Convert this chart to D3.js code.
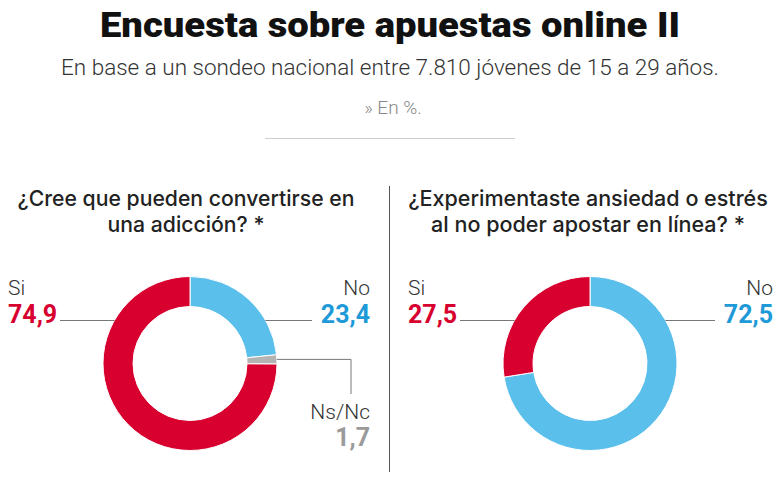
<!DOCTYPE html>
<html><head><meta charset="utf-8">
<script src="https://cdn.jsdelivr.net/npm/d3@7"></script>
<style>body{margin:0;background:#fff}svg{display:block}</style>
</head><body>
<script>
const title = "Encuesta sobre apuestas online II";
const subtitle = "En base a un sondeo nacional entre 7.810 jóvenes de 15 a 29 años.";
const unitNote = "» En %.";
const q1Title = ["¿Cree que pueden convertirse en", "una adicción? *"];
const q1Labels = ["No", "Ns/Nc", "Si"];
const q1Values = [23.4, 1.7, 74.9];
const q2Title = ["¿Experimentaste ansiedad o estrés", "al no poder apostar en línea? *"];
const q2Labels = ["No", "Si"];
const q2Values = [72.5, 27.5];

const W = 780, H = 480;
const sliceColor = {"Si": "#d7002f", "No": "#5bbfeb", "Ns/Nc": "#b3b3b3"};
const numColor = {"Si": "#d7002f", "No": "#1f9ad8", "Ns/Nc": "#9a9a9a"};
const svg = d3.select("body").append("svg").attr("width", W).attr("height", H);
const sans = "Roboto, 'Noto Sans', sans-serif";
const qfont = "Inter, 'Noto Sans', sans-serif";

svg.append("text").attr("x", W/2).attr("y", 37).attr("text-anchor", "middle")
  .attr("font-family", sans).attr("font-weight", 900).attr("font-size", 35)
  .attr("fill", "#111").attr("textLength", 580).attr("lengthAdjust", "spacingAndGlyphs").text(title);
svg.append("text").attr("x", W/2).attr("y", 75).attr("text-anchor", "middle")
  .attr("font-family", sans).attr("font-weight", 300).attr("font-size", 22)
  .attr("fill", "#333").attr("textLength", 658).attr("lengthAdjust", "spacingAndGlyphs").text(subtitle);
svg.append("text").attr("x", W/2 + 3).attr("y", 114).attr("text-anchor", "middle")
  .attr("font-family", sans).attr("font-weight", 300).attr("font-size", 19)
  .attr("fill", "#888").text(unitNote);
svg.append("line").attr("x1", 265).attr("x2", 515).attr("y1", 138.5).attr("y2", 138.5)
  .attr("stroke", "#cfcfcf").attr("stroke-width", 1);
svg.append("line").attr("x1", 389.5).attr("x2", 389.5).attr("y1", 186).attr("y2", 472)
  .attr("stroke", "#555").attr("stroke-width", 1);

const outerR = 87, innerR = 57;
const pie = d3.pie().sort(null).value(d => d.v);
const arc = d3.arc().innerRadius(innerR).outerRadius(outerR);

function donut(cx, titleX, qTitle, labels, values, leftX, rightX, firstW) {
  const g = svg.append("g");
  const lines = qTitle.map((line, i) => g.append("text").attr("x", titleX).attr("y", 206 + i*26)
      .attr("text-anchor", "middle").attr("font-family", qfont).attr("font-weight", 500)
      .attr("font-size", 20).attr("fill", "#222").text(line));
  const w0 = lines[0].node().getComputedTextLength();
  const fs = 20 * firstW / w0;
  lines.forEach(s => s.attr("font-size", fs));
  const cy = 363.5;
  const data = labels.map((l, i) => ({l, v: values[i]}));
  const arcs = pie(data);
  const dg = g.append("g").attr("transform", `translate(${cx},${cy})`);
  dg.selectAll("path").data(arcs).join("path").attr("d", arc)
    .attr("fill", d => sliceColor[d.data.l]).attr("stroke", "#fff").attr("stroke-width", 1);
  const ly = 320;
  const dx = Math.sqrt(outerR*outerR - (cy-ly)*(cy-ly));
  arcs.forEach(a => {
    const l = a.data.l;
    let tx, anchor, nameY = 295, numY = 323;
    if (l === "Si") {
      tx = leftX; anchor = "start";
      g.append("line").attr("x1", leftX + 52).attr("x2", cx - dx)
        .attr("y1", ly + .5).attr("y2", ly + .5).attr("stroke", "#777").attr("stroke-width", 1);
    } else if (l === "No") {
      tx = rightX; anchor = "end";
      g.append("line").attr("x1", cx + dx).attr("x2", rightX - 58)
        .attr("y1", ly + .5).attr("y2", ly + .5).attr("stroke", "#777").attr("stroke-width", 1);
    } else {
      tx = rightX; anchor = "end"; nameY = 419; numY = 446;
      const mid = (a.startAngle + a.endAngle) / 2;
      const px = cx + outerR * Math.sin(mid), py = cy - outerR * Math.cos(mid);
      const bx = rightX - 19;
      g.append("path").attr("d", `M${px},${py}H${bx}V${394}`).attr("fill", "none")
        .attr("stroke", "#777").attr("stroke-width", 1);
    }
    g.append("text").attr("x", tx).attr("y", nameY).attr("text-anchor", anchor)
      .attr("font-family", sans).attr("font-weight", 300).attr("font-size", 21)
      .attr("fill", "#333").text(l);
    g.append("text").attr("x", tx).attr("y", numY).attr("text-anchor", anchor)
      .attr("font-family", sans).attr("font-weight", 700).attr("font-size", 25)
      .attr("fill", numColor[l]).text(d3.format(".1f")(a.data.v).replace(".", ","));
  });
}
donut(190, 186, q1Title, q1Labels, q1Values, 8, 370, 337);
donut(590, 588, q2Title, q2Labels, q2Values, 408, 773, 360);
</script>
</body></html>
